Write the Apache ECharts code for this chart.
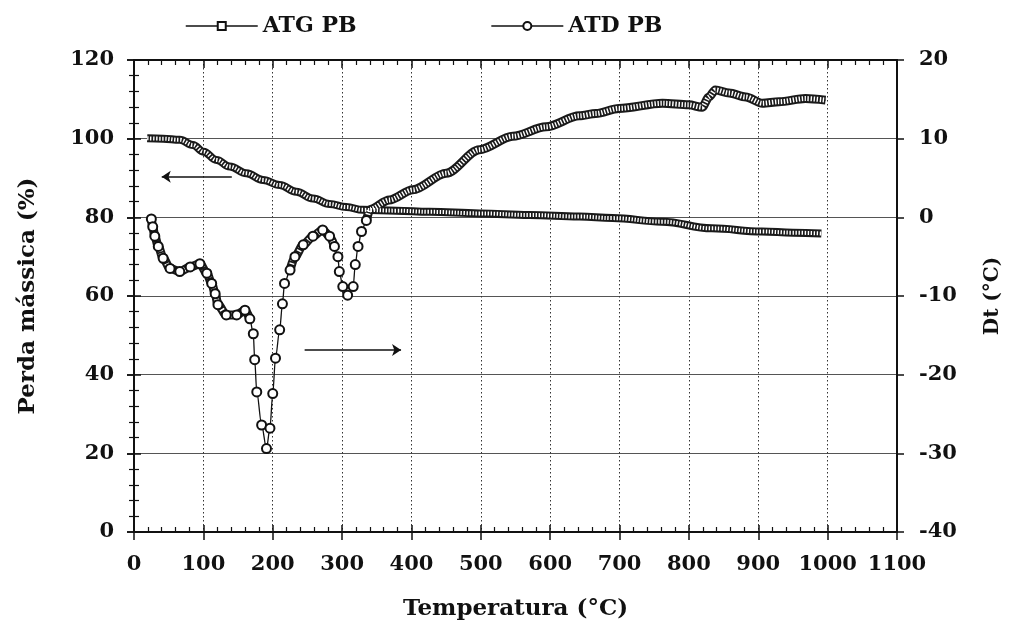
<!DOCTYPE html>
<html><head><meta charset="utf-8">
<script src="https://cdn.jsdelivr.net/npm/echarts@6/dist/echarts.min.js"></script>
<style>html,body{margin:0;padding:0;background:#fff}#c{width:1011px;height:629px}</style>
</head><body><div id="c"></div>
<script>
// ATG PB: mass loss (%) vs temperature (°C), left axis
const atgT    = [19, 42, 66, 85, 100, 119, 138, 162, 186, 210, 234, 258, 282, 306, 330, 378, 426, 498, 570, 642, 690, 761, 833, 905, 950, 991];
const atgMass = [100.1, 100, 99.7, 98.4, 96.7, 94.6, 92.9, 91.2, 89.5, 88.2, 86.5, 84.8, 83.4, 82.6, 81.9, 81.7, 81.4, 81.0, 80.6, 80.2, 79.8, 78.9, 77.2, 76.4, 76.1, 75.9];
// ATD PB: Dt (°C) vs temperature (°C), right axis
const atdT  = [25, 27, 30, 35, 42, 52, 66, 81, 95, 105, 112, 117, 121, 133, 148, 160, 167, 172, 174, 177, 184, 191, 196, 200, 204, 210, 214, 217, 225, 232, 244, 258, 272, 282, 289, 294, 296, 301, 308, 316, 319, 323, 328, 335, 340, 368, 402, 450, 498, 546, 594, 642, 666, 699, 762, 800, 819, 829, 838, 858, 882, 906, 930, 968, 997];
const atdDt = [-0.2, -1.2, -2.4, -3.7, -5.2, -6.5, -6.9, -6.3, -5.9, -7.1, -8.4, -9.7, -11.1, -12.4, -12.4, -11.8, -12.9, -14.8, -18.1, -22.2, -26.4, -29.4, -26.8, -22.4, -17.9, -14.3, -11.0, -8.4, -6.7, -5.0, -3.5, -2.4, -1.6, -2.4, -3.7, -5.0, -6.9, -8.8, -9.9, -8.8, -6.0, -3.7, -1.8, -0.4, 1.0, 2.2, 3.5, 5.6, 8.6, 10.3, 11.5, 12.9, 13.2, 13.85, 14.5, 14.3, 14.0, 15.3, 16.2, 15.8, 15.3, 14.5, 14.7, 15.1, 14.9];
// annotation arrows (data coords on left axis)
const arrowLeft  = {from: [141, 90.3], to: [40, 90.3]};
const arrowRight = {from: [246, 46.3], to: [385, 46.3]};

const FONT = 'DejaVu Serif';
const INK = '#111';
const atdGaps = [[168, 222], [290, 333]];
const inGap = t => atdGaps.some(g => t > g[0] && t < g[1]);
const pair = (xs, ys) => xs.map((x, i) => [x, ys[i]]);
const atgData = pair(atgT, atgMass);
const atdData = pair(atdT, atdDt);
const atdBand = atdT.map((t, i) => inGap(t) ? [t, '-'] : [t, atdDt[i]]);
const atdMarks = atdT.map((t, i) => t < 340 ? [t, atdDt[i]] : {value: [t, atdDt[i]], symbol: 'none'});

const txt = (size) => ({fontFamily: FONT, fontWeight: 'bold', fontSize: size, color: INK});
const axLine = {show: true, onZero: false, lineStyle: {color: INK, width: 2}};
const tickStyle = {color: INK, width: 1.5};
const minorStyle = {color: INK, width: 1.2};
// inside tick overlay axis (major inside + minor inside)
const insideAxis = (pos, min, max, interval) => ({
  type: 'value', min, max, interval, position: pos,
  axisLine: {show: false}, axisLabel: {show: false}, splitLine: {show: false},
  axisTick: {show: true, inside: true, length: 7, lineStyle: tickStyle},
  minorTick: {show: true, splitNumber: 5, length: 5, lineStyle: minorStyle}
});

const chart = echarts.init(document.getElementById('c'));
chart.setOption({
  animation: false,
  backgroundColor: '#fff',
  grid: {left: 134, right: 111, top: 60, bottom: 97},
  legend: {
    data: ['ATG PB', 'ATD PB'], left: 185, top: 15, padding: 0, itemWidth: 72, itemHeight: 10, itemGap: 134,
    textStyle: txt(22), lineStyle: {width: 1.5, color: INK, opacity: 1}
  },
  xAxis: [
    {type: 'value', min: 0, max: 1100, interval: 100, position: 'bottom',
     axisLine: axLine, axisTick: {show: true, inside: false, length: 8, lineStyle: tickStyle},
     axisLabel: Object.assign({margin: 22, showMinLabel: true, showMaxLabel: true, formatter: v => String(v)}, txt(21)),
     splitLine: {show: true, lineStyle: {color: '#333', width: 1, type: [1.5, 2.5]}},
     name: 'Temperatura (°C)', nameLocation: 'middle', nameGap: 66, nameTextStyle: txt(23)},
    {type: 'value', min: 0, max: 1100, interval: 100, position: 'top',
     axisLine: axLine, axisTick: {show: true, inside: true, length: 8, lineStyle: tickStyle},
     minorTick: {show: true, splitNumber: 5, length: 5, lineStyle: minorStyle},
     axisLabel: {show: false}, splitLine: {show: false}},
    insideAxis('bottom', 0, 1100, 100)
  ],
  yAxis: [
    {type: 'value', min: 0, max: 120, interval: 20, position: 'left',
     axisLine: axLine, axisTick: {show: true, inside: false, length: 7, lineStyle: tickStyle},
     axisLabel: Object.assign({margin: 20, showMinLabel: true, showMaxLabel: true}, txt(21)),
     splitLine: {show: true, lineStyle: {color: '#555', width: 1.2}},
     name: 'Perda mássica (%)', nameLocation: 'middle', nameGap: 94, nameRotate: 90, nameTextStyle: txt(23)},
    {type: 'value', min: -40, max: 20, interval: 10, position: 'right',
     axisLine: axLine, axisTick: {show: true, inside: false, length: 7, lineStyle: tickStyle},
     axisLabel: Object.assign({margin: 22, showMinLabel: true, showMaxLabel: true}, txt(21)),
     splitLine: {show: false},
     name: 'Dt (°C)', nameLocation: 'middle', nameGap: 86, nameRotate: 90, nameTextStyle: txt(20)},
    insideAxis('left', 0, 120, 20),
    insideAxis('right', -40, 20, 10)
  ],
  series: [
    {name: 'ATG PB', type: 'line', xAxisIndex: 0, yAxisIndex: 0, data: atgData, smooth: 0.4, smoothMonotone: 'x',
     symbol: 'emptyRect', symbolSize: 8, showSymbol: false, z: 2,
     lineStyle: {color: '#1a1a1a', width: 8}, itemStyle: {color: INK, borderWidth: 1.3},
     markLine: {silent: true, symbol: ['none', 'arrow'], symbolSize: 9, label: {show: false},
       lineStyle: {color: INK, width: 1.5, type: 'solid'},
       data: [[{coord: arrowLeft.from}, {coord: arrowLeft.to}], [{coord: arrowRight.from}, {coord: arrowRight.to}]]}},
    {type: 'line', xAxisIndex: 0, yAxisIndex: 0, data: atgData, smooth: 0.4, smoothMonotone: 'x', symbol: 'none', z: 3,
     lineStyle: {color: '#fff', width: 4, type: [1.4, 1.6]}},
    {type: 'line', xAxisIndex: 0, yAxisIndex: 1, data: atdData, smooth: 0.3, smoothMonotone: 'x', symbol: 'none', z: 1,
     lineStyle: {color: INK, width: 1.3}},
    {type: 'line', xAxisIndex: 0, yAxisIndex: 1, data: atdBand, smooth: 0.3, smoothMonotone: 'x', symbol: 'none', z: 2,
     lineStyle: {color: '#1a1a1a', width: 9}},
    {type: 'line', xAxisIndex: 0, yAxisIndex: 1, data: atdBand, smooth: 0.3, smoothMonotone: 'x', symbol: 'none', z: 3,
     lineStyle: {color: '#fff', width: 5, type: [1.4, 1.6]}},
    {name: 'ATD PB', type: 'line', xAxisIndex: 0, yAxisIndex: 1, data: atdMarks, smooth: 0.3, smoothMonotone: 'x',
     symbol: 'emptyCircle', symbolSize: 9, showSymbol: true, showAllSymbol: true, z: 4,
     lineStyle: {opacity: 0}, itemStyle: {color: INK, borderWidth: 1.3}}
  ]
});
</script></body></html>
